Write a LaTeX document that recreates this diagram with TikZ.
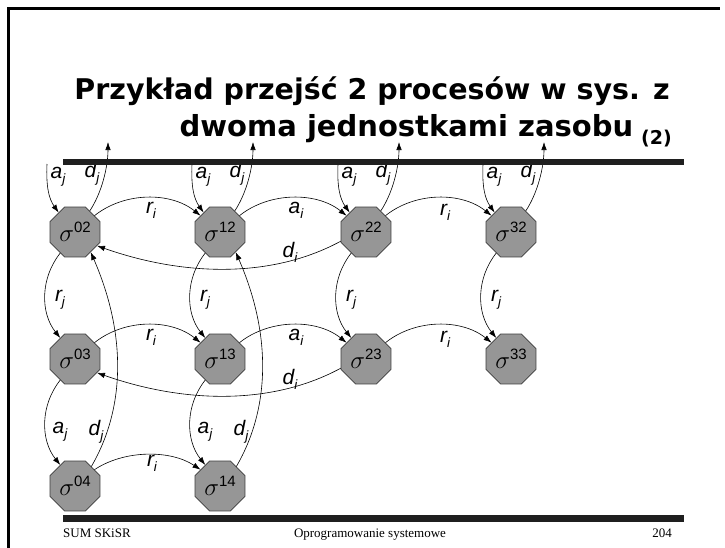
\documentclass[tikz,border=0pt]{standalone}
\usepackage{fontspec}
\setmainfont{Liberation Serif}
\setsansfont{Liberation Sans}
\newfontfamily\titlefont{DejaVu Sans}
\usetikzlibrary{shapes.geometric,arrows.meta}
\definecolor{octgray}{RGB}{150,150,150}
\definecolor{octedge}{RGB}{60,60,60}
\newcommand\sig[1]{{\fontsize{27}{27}\selectfont$\sigma$}\raisebox{8.5pt}{\sffamily\fontsize{15}{15}\selectfont #1}}
\newcommand\lab[2]{{\itshape #1\raisebox{-5pt}{\fontsize{13.5}{13.5}\selectfont #2}}}
\begin{document}
\begin{tikzpicture}[x=1pt,y=-1pt,
  st/.style={regular polygon,regular polygon sides=8,minimum size=54pt,inner sep=0pt,
    fill=octgray,draw=octedge,line width=0.7pt},
  arr/.style={-{Latex[length=8pt,width=5.5pt]},line width=0.6pt},
  lbl/.style={font=\sffamily\fontsize{21}{21}\selectfont,inner sep=0pt},
  rulebar/.style={fill=black!88},
  foot/.style={font=\rmfamily\fontsize{13}{13}\selectfont,inner sep=0pt}]
\useasboundingbox (0,0) rectangle (725,547);
\fill[white] (0,0) rectangle (725,547);
% frame
\draw[line width=3pt] (8,550) -- (8,8) -- (720,8);
% title
\node[anchor=base east,inner sep=0pt,font=\titlefont\bfseries\fontsize{28.5}{28.5}\selectfont] (t1) at (670,99) {Przykład przejść 2 procesów w sys. z};
\node[anchor=base east,inner sep=0pt,font=\titlefont\bfseries\fontsize{29}{29}\selectfont] (t2) at (672,136) {dwoma jednostkami zasobu\kern8pt{\fontsize{19}{19}\selectfont\raisebox{-8pt}{(2)}}};
% states
\node[st] (s02) at (75,232) {\sig{02}};
\node[st] (s12) at (220,232) {\sig{12}};
\node[st] (s22) at (366,232) {\sig{22}};
\node[st] (s32) at (511,232) {\sig{32}};
\node[st] (s03) at (75,359) {\sig{03}};
\node[st] (s13) at (220,359) {\sig{13}};
\node[st] (s23) at (366,359) {\sig{23}};
\node[st] (s33) at (511,359) {\sig{33}};
\node[st] (s04) at (75,486) {\sig{04}};
\node[st] (s14) at (220,486) {\sig{14}};
% top arrivals / departures
\foreach \n/\x in {02/75,12/220,22/366,32/511}{
  \coordinate (in\n) at (\x-28,164);
  \coordinate (out\n) at (\x+33,142);
  \draw[arr] (in\n) .. controls +(-1,22) and +(-10,-14) .. (s\n.130);
  \draw[arr] (s\n.55) .. controls +(12,-18) and +(0,25) .. (out\n);
  \node[lbl] (la\n) at (\x-17,177) {\lab aj};
  \node[lbl] (ld\n) at (\x+17,174) {\lab dj};
}
% horizontal transitions, rows 2 and 3
\foreach \r/\y in {2/232,3/359}{
  \draw[arr] (s0\r.40) .. controls +(30,-24) and +(-30,-24) .. (s1\r.140);
  \draw[arr] (s1\r.40) .. controls +(30,-24) and +(-30,-24) .. (s2\r.140);
  \draw[arr] (s2\r.40) .. controls +(30,-24) and +(-30,-24) .. (s3\r.140);
  \draw[arr] (s2\r.200) .. controls +(-70,38) and +(85,30) .. (s0\r.-32);
  \node[lbl] (lr\r a) at (151,\y-22) {\lab ri};
  \node[lbl] (la\r b) at (296,\y-22) {\lab ai};
  \node[lbl] (lr\r c) at (445,\y-20) {\lab ri};
  \node[lbl] (ld\r d) at (290,\y+20) {\lab di};
}
% row 4
\draw[arr] (s04.40) .. controls +(30,-20) and +(-30,-20) .. (s14.140);
\node[lbl] (lr4) at (152,463) {\lab ri};
% vertical r_j
\foreach \c/\x in {0/75,1/220,2/366,3/511}{
  \draw[arr] (s\c2.235) .. controls +(-20,25) and +(-20,-25) .. (s\c3.125);
  \node[lbl] (lrj\c) at (\x-15,300) {\lab rj};
}
% a_j rows 3->4, d_j rows 4->2
\foreach \c/\x in {0/75,1/220}{
  \draw[arr] (s\c3.235) .. controls +(-20,25) and +(-20,-25) .. (s\c4.125);
  \node[lbl] (laj\c) at (\x-15,432) {\lab aj};
  \draw[arr] (s\c4.50) .. controls +(35,-60) and +(35,80) .. (s\c2.-52);
  \node[lbl] (ldj\c) at (\x+21,432) {\lab dj};
}
% rules
\fill[rulebar] (63,159) rectangle (684,165);
\fill[rulebar] (63,515) rectangle (684,522);
% footer
\node[foot,anchor=base west] (f1) at (63,537) {SUM SKiSR};
\node[foot,anchor=base] (f2) at (370,537) {Oprogramowanie systemowe};
\node[foot,anchor=base east] (f3) at (672,537) {204};
\end{tikzpicture}
\end{document}
